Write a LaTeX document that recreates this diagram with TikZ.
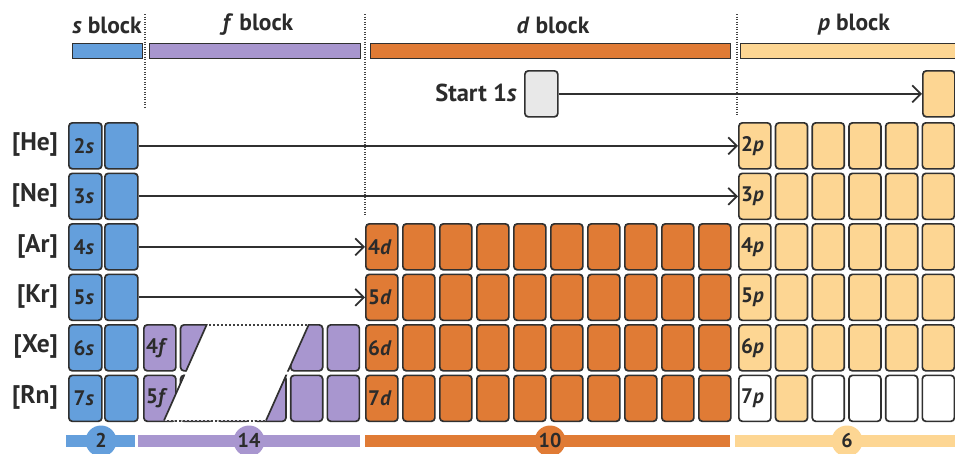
\documentclass[tikz,border=0pt]{standalone}
\usepackage{fontspec}
\setmainfont{PT Sans}
\usetikzlibrary{arrows.meta,calc}
\definecolor{sblue}{HTML}{649FDC}
\definecolor{fpurple}{HTML}{A896CF}
\definecolor{dorange}{HTML}{E07B35}
\definecolor{plight}{HTML}{FDD693}
\definecolor{startgrey}{HTML}{E8E8E8}
\definecolor{outl}{HTML}{303030}
\definecolor{txt}{HTML}{2B2B2B}
\definecolor{sepgrey}{HTML}{444444}
\begin{document}
\begin{tikzpicture}[x=1pt,y=-1pt,
  cell/.style={draw=outl, line width=1.7pt, rounded corners=3.5pt, minimum width=32pt, minimum height=46pt, inner sep=0pt, anchor=north west},
  lbl/.style={anchor=west, inner sep=0pt, xshift=3pt, font=\bfseries\fontsize{21}{21}\selectfont, text=txt},
  rowlbl/.style={anchor=east, inner sep=0pt, font=\bfseries\fontsize{25.5}{25.5}\selectfont, text=txt},
  title/.style={inner sep=0pt, font=\bfseries\fontsize{23.5}{23.5}\selectfont, text=txt},
  hbar/.style={draw=outl, line width=1.3pt, minimum height=15pt, inner sep=0pt, anchor=north west},
  numc/.style={circle, minimum size=31pt, inner sep=0pt},
  numtxt/.style={inner sep=0pt, font=\bfseries\fontsize{20}{20}\selectfont, text=txt},
  arr/.style={draw=outl, line width=1.8pt, -{Straight Barb[length=8.5pt,width=17pt]}},
  sep/.style={draw=sepgrey, line width=1.3pt, dash pattern=on 1.2pt off 1.3pt},
  cut/.style={draw=outl, line width=1.7pt},
  cutdot/.style={draw=black!75, line width=2pt, dash pattern=on 2pt off 2pt}]
\useasboundingbox (0,0) rectangle (955,453);

% separators
\draw[sep] (145,14) -- (145,108);
\draw[sep] (365,14) -- (365,215);
\draw[sep] (737,14) -- (737,116);

% header
\node[title] (stitle) at (107,25) {\textit{s} block};
\node[title] (ftitle) at (258,25) {\textit{f} block};
\node[title] (dtitle) at (553,25) {\textit{d} block};
\node[title] (ptitle) at (854,25) {\textit{p} block};
\node[hbar, fill=sblue, minimum width=70pt] (sbar) at (72,43) {};
\node[hbar, fill=fpurple, minimum width=211pt] (fbar) at (149,43) {};
\node[hbar, fill=dorange, minimum width=360pt] (dbar) at (370,43) {};
\node[hbar, fill=plight, minimum width=218pt] (pbar) at (740,43) {};

% start 1s
\node[cell, fill=startgrey, minimum width=33pt] (start) at (524,70) {};
\node[title, anchor=east, font=\bfseries\fontsize{24.5}{24.5}\selectfont] (starttxt) at (517,93) {Start 1\textit{s}};
\node[cell, fill=plight] (p-1) at (922,70) {};

% row labels and cells
\foreach \r/\t/\n in {2/122/He,3/172.5/Ne,4/223/Ar,5/273.5/Kr,6/324/Xe,7/374.5/Rn}{
  \node[rowlbl] (row-\r) at (58,\t+23) {[\n]};
  \foreach \k in {0,1}{
    \node[cell, fill=sblue, minimum width=33pt] (s-\r-\k) at (68+36*\k,\t) {};
  }
  \node[lbl, xshift=2.5pt] (sl-\r) at (s-\r-0.west) {\r\textit{s}};
  \foreach \k in {0,...,5}{
    \ifnum\r=7
      \ifnum\k=1
        \node[cell, fill=plight] (p-\r-\k) at (738+36.7*\k,\t) {};
      \else
        \node[cell, fill=white] (p-\r-\k) at (738+36.7*\k,\t) {};
      \fi
    \else
      \node[cell, fill=plight] (p-\r-\k) at (738+36.7*\k,\t) {};
    \fi
  }
  \node[lbl] (pl-\r) at (p-\r-0.west) {\r\textit{p}};
}
\foreach \r/\t in {4/223,5/273.5,6/324,7/374.5}{
  \foreach \k in {0,...,9}{
    \node[cell, fill=dorange] (d-\r-\k) at (365+37*\k,\t) {};
  }
  \node[lbl] (dl-\r) at (d-\r-0.west) {\r\textit{d}};
}
\foreach \r/\t in {6/324,7/374.5}{
  \foreach \k in {0,...,5}{
    \node[cell, fill=fpurple] (f-\r-\k) at (143+36.7*\k,\t) {};
  }
}
% f block break
\fill[white] (207,324) -- (309,324) -- (266,420.5) -- (164,420.5) -- cycle;
\begin{scope}
  \clip (f-6-0.north west) rectangle (f-6-5.south east)
        (f-7-0.north west) rectangle (f-7-5.south east);
  \draw[cut] (207,324) -- (164,420.5);
  \draw[cut] (309,324) -- (266,420.5);
\end{scope}
\draw[cutdot] (209,324.5) -- (308,324.5);
\draw[cutdot] (167,420.5) -- (266,420.5);
\node[lbl] (fl-6) at (f-6-0.west) {4\textit{f}};
\node[lbl] (fl-7) at (f-7-0.west) {5\textit{f}};

% arrows
\draw[arr] (start.east) -- (p-1.west);
\draw[arr] (s-2-1.east) -- (p-2-0.west);
\draw[arr] (s-3-1.east) -- (p-3-0.west);
\draw[arr] (s-4-1.east) -- (d-4-0.west);
\draw[arr] (s-5-1.east) -- (d-5-0.west);

% bottom bars
\fill[sblue] (66,435) rectangle (135,447);
\fill[fpurple] (138,435) rectangle (360,447);
\fill[dorange] (365,435) rectangle (730,447);
\fill[plight] (735,435) rectangle (955,447);
\node[numc, fill=sblue] (n-s) at (101,441) {};
\node[numc, fill=fpurple] (n-f) at (249,441) {};
\node[numc, fill=dorange] (n-d) at (550,441) {};
\node[numc, fill=plight] (n-p) at (847,441) {};
\node[numtxt] (t-s) at (101,440) {2};
\node[numtxt] (t-f) at (249,440) {14};
\node[numtxt] (t-d) at (550,440) {10};
\node[numtxt] (t-p) at (847,440) {6};
\end{tikzpicture}
\end{document}
